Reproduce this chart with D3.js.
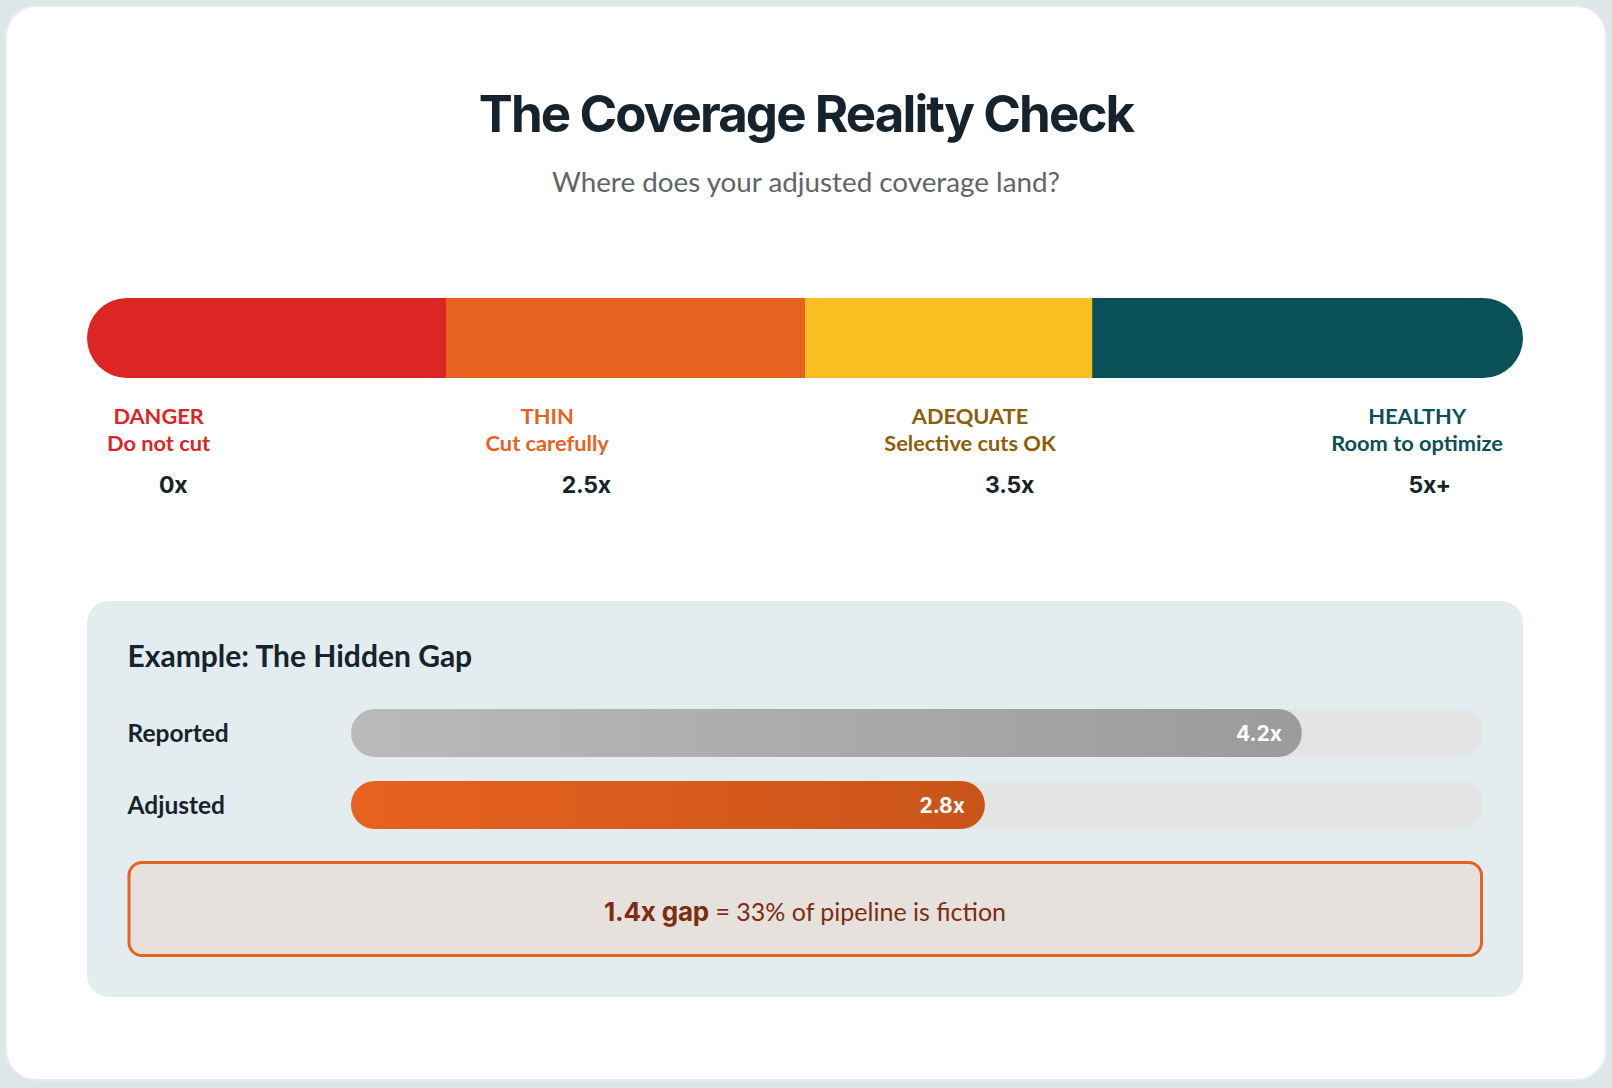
<!DOCTYPE html>
<html>
<head>
<meta charset="utf-8">
<script src="https://cdn.jsdelivr.net/npm/d3@7"></script>
<style>
  html, body { margin: 0; padding: 0; background: #dde6e9; }
  svg { display: block; }
</style>
</head>
<body>
<svg id="chart" width="1612" height="1088"></svg>
<script>
// ---- Data ----
const titleText = "The Coverage Reality Check";
const subtitleText = "Where does your adjusted coverage land?";
const zoneNames = ["DANGER", "THIN", "ADEQUATE", "HEALTHY"];
const zoneNotes = ["Do not cut", "Cut carefully", "Selective cuts OK", "Room to optimize"];
const zoneShares = [25, 25, 20, 30];
const tickLabels = ["0x", "2.5x", "3.5x", "5x+"];
const exampleTitle = "Example: The Hidden Gap";
const exampleLabels = ["Reported", "Adjusted"];
const exampleValues = [4.2, 2.8];
const exampleMax = 5;
const gapValue = 1.4;
const gapPercent = 33;

// ---- Styles ----
const zoneColors = ["#dc2626", "#e8621f", "#fbbf24", "#0a5157"];
const zoneTextColors = ["#dc2626", "#e8621f", "#8d5d07", "#0a5157"];
const dark = "#17232c";
const HEAD = "Inter, 'Helvetica Neue', Arial, sans-serif";
const BODY = "Lato, 'Open Sans', sans-serif";

const svg = d3.select("#chart");
const defs = svg.append("defs");

// Card
svg.append("rect").attr("x", 6).attr("y", 6).attr("width", 1600).attr("height", 1074)
  .attr("rx", 30).attr("fill", "#ffffff").attr("stroke", "#e7ecee").attr("stroke-width", 2);

// Title & subtitle
svg.append("text").attr("x", 806).attr("y", 132).attr("text-anchor", "middle")
  .attr("font-family", HEAD).attr("font-weight", 700).attr("font-size", 51)
  .attr("letter-spacing", -1.9).attr("fill", dark).text(titleText);
svg.append("text").attr("x", 806).attr("y", 192).attr("text-anchor", "middle")
  .attr("font-family", BODY).attr("font-weight", 400).attr("font-size", 27.8)
  .attr("fill", "#5f6467").text(subtitleText);

// Zone bar
const barX0 = 87, barX1 = 1523, barY = 298, barH = 80;
const cum = d3.cumsum(zoneShares);
const zx = d3.scaleLinear().domain([0, d3.sum(zoneShares)]).range([barX0, barX1]);
defs.append("clipPath").attr("id", "barClip").append("rect")
  .attr("x", barX0).attr("y", barY).attr("width", barX1 - barX0).attr("height", barH)
  .attr("rx", barH / 2);
svg.append("g").attr("clip-path", "url(#barClip)")
  .selectAll("rect").data(zoneShares).join("rect")
  .attr("x", (d, i) => zx(cum[i] - d))
  .attr("y", barY)
  .attr("width", (d, i) => zx(cum[i]) - zx(cum[i] - d) + (i < zoneShares.length - 1 ? 0.5 : 0))
  .attr("height", barH)
  .attr("fill", (d, i) => zoneColors[i]);

// Zone labels: space-between row with 20px padding
const labG = svg.append("g");
const labBlocks = zoneNames.map((n, i) => {
  const g = labG.append("g");
  const t1 = g.append("text").attr("y", 423.5).attr("text-anchor", "middle")
    .attr("font-family", BODY).attr("font-weight", 700).attr("font-size", 21.8)
    .attr("fill", zoneTextColors[i]).text(n);
  const t2 = g.append("text").attr("y", 450.5).attr("text-anchor", "middle")
    .attr("font-family", BODY).attr("font-weight", 700).attr("font-size", 21.8)
    .attr("fill", zoneTextColors[i]).text(zoneNotes[i]);
  const w = Math.max(t1.node().getComputedTextLength(), t2.node().getComputedTextLength());
  return { g, w };
});
function spaceBetween(blocks, left, right) {
  const total = d3.sum(blocks, b => b.w);
  const gap = (right - left - total) / (blocks.length - 1);
  let x = left;
  blocks.forEach(b => { b.g.attr("transform", `translate(${x + b.w / 2},0)`); x += b.w + gap; });
}
spaceBetween(labBlocks, barX0 + 20, barX1 - 20);

// Tick labels row
const tickG = svg.append("g");
const tickBlocks = tickLabels.map(t => {
  const g = tickG.append("g");
  const tx = g.append("text").attr("y", 493).attr("text-anchor", "middle")
    .attr("font-family", HEAD).attr("font-weight", 700).attr("font-size", 23)
    .attr("letter-spacing", -0.2).attr("fill", dark).text(t);
  return { g, w: tx.node().getComputedTextLength() };
});
spaceBetween(tickBlocks, barX0 + 72, barX1 - 72);

// Example panel
const panelX = 87, panelY = 601, panelW = 1436, panelH = 396;
svg.append("rect").attr("x", panelX).attr("y", panelY).attr("width", panelW).attr("height", panelH)
  .attr("rx", 22).attr("fill", "#e3ecef");
svg.append("text").attr("x", 127.5).attr("y", 667)
  .attr("font-family", BODY).attr("font-weight", 700).attr("font-size", 30)
  .attr("fill", dark).text(exampleTitle);

const trackX0 = 351, trackX1 = 1483, rowH = 48;
const xs = d3.scaleLinear().domain([0, exampleMax]).range([trackX0, trackX1]);
const ys = d3.scalePoint().domain(exampleLabels).range([709, 781]);

const gradStops = [["#bababa", "#9b9b9b"], ["#e8621f", "#c9541a"]];
gradStops.forEach((s, i) => {
  const gr = defs.append("linearGradient").attr("id", "g" + i).attr("x1", "0").attr("x2", "1").attr("y1", "0").attr("y2", "0");
  gr.append("stop").attr("offset", "0%").attr("stop-color", s[0]);
  gr.append("stop").attr("offset", "100%").attr("stop-color", s[1]);
});

const rows = svg.append("g").selectAll("g").data(exampleLabels).join("g");
rows.append("text").attr("x", 127.5).attr("y", d => ys(d) + rowH / 2 + 9)
  .attr("font-family", BODY).attr("font-weight", 700).attr("font-size", 24.5)
  .attr("fill", dark).text(d => d);
rows.append("rect").attr("x", xs(0)).attr("y", d => ys(d))
  .attr("width", xs(exampleMax) - xs(0)).attr("height", rowH).attr("rx", rowH / 2)
  .attr("fill", "#e4e4e4");
rows.append("rect").attr("x", xs(0)).attr("y", d => ys(d))
  .attr("width", (d, i) => xs(exampleValues[i]) - xs(0)).attr("height", rowH).attr("rx", rowH / 2)
  .attr("fill", (d, i) => `url(#g${i})`);
rows.append("text").attr("x", (d, i) => xs(exampleValues[i]) - 20)
  .attr("y", d => ys(d) + rowH / 2 + 7.5).attr("text-anchor", "end")
  .attr("font-family", HEAD).attr("font-weight", 700).attr("font-size", 21)
  .attr("fill", "#ffffff").text((d, i) => exampleValues[i] + "x");

// Callout
svg.append("rect").attr("x", 129).attr("y", 862.5).attr("width", 1352.5).attr("height", 93)
  .attr("rx", 13).attr("fill", "#e6e1dd").attr("stroke", "#e8621f").attr("stroke-width", 3);
const call = svg.append("text").attr("x", 805).attr("y", 920.5).attr("text-anchor", "middle")
  .attr("fill", "#7c2d12").attr("font-size", 25);
call.append("tspan").attr("font-family", HEAD).attr("font-weight", 700).attr("font-size", 26)
  .attr("letter-spacing", -0.2).text(`${gapValue}x gap`);
call.append("tspan").attr("font-family", BODY).attr("font-weight", 400)
  .text(` = ${gapPercent}% of pipeline is fiction`);
</script>
</body>
</html>
